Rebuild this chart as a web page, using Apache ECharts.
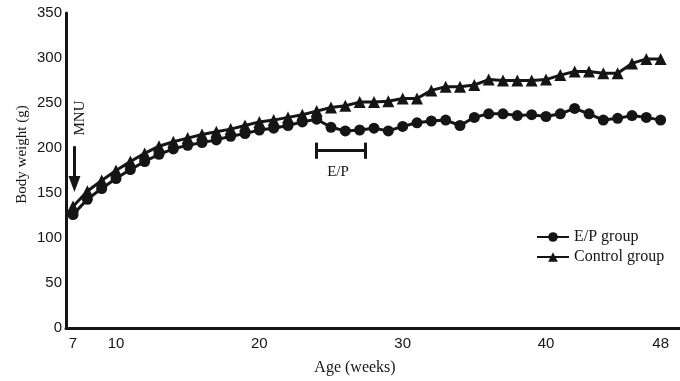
<!DOCTYPE html>
<html>
<head>
<meta charset="utf-8">
<script src="https://cdn.jsdelivr.net/npm/echarts@6/dist/echarts.min.js"></script>
<style>
  html, body { margin: 0; padding: 0; background: #fff; }
  #main { width: 680px; height: 381px; }
</style>
</head>
<body>
<div id="main"></div>
<script>
// weeks of age, one reading per week
var weeks = [7, 8, 9, 10, 11, 12, 13, 14, 15, 16, 17, 18, 19, 20, 21, 22, 23, 24,
    25, 26, 27, 28, 29, 30, 31, 32, 33, 34, 35, 36, 37, 38, 39, 40, 41, 42, 43, 44, 45, 46, 47, 48];
var epGroup = [126, 143, 155, 166, 176, 185, 193, 199, 203, 206, 209, 213, 216, 220, 222, 225, 229, 232,
    223, 219, 220, 222, 219, 224, 228, 230, 231, 225, 234, 238, 238, 236, 237, 235, 238, 244, 238, 231, 233, 236, 234, 231];
var controlGroup = [135, 152, 164, 175, 185, 194, 202, 207, 211, 215, 218, 221, 225, 229, 231, 234, 237, 241,
    245, 247, 251, 251, 252, 255, 255, 264, 268, 268, 270, 276, 275, 275, 275, 276, 281, 285, 285, 283, 283, 294, 299, 299];
var xTicks = [7, 10, 20, 30, 40, 48];
var seriesNames = ['E/P group', 'Control group'];

var serif = "'Liberation Serif', 'Times New Roman', serif";
var narrow = "'Liberation Sans Narrow', 'Liberation Sans', Arial, sans-serif";
var ink = '#151515';

function pairs(vals) {
    return weeks.map(function (w, i) { return [w, vals[i]]; });
}

var chart = echarts.init(document.getElementById('main'));
chart.setOption({
    animation: false,
    grid: { left: 66, right: 0, top: 13, bottom: 52, containLabel: false },
    xAxis: {
        type: 'value',
        min: 6.51,
        max: 49.35,
        name: 'Age (weeks)',
        nameLocation: 'middle',
        nameGap: 32,
        nameTextStyle: { fontFamily: serif, fontSize: 16, color: ink, padding: [0, 36, 0, 0] },
        axisLine: { show: true, lineStyle: { color: ink, width: 3 } },
        axisTick: { show: false },
        splitLine: { show: false },
        axisLabel: {
            customValues: xTicks,
            fontFamily: narrow,
            fontSize: 15,
            color: ink,
            margin: 8
        }
    },
    yAxis: {
        type: 'value',
        min: 0,
        max: 350,
        interval: 50,
        name: 'Body weight (g)',
        nameLocation: 'middle',
        nameRotate: 90,
        nameGap: 36,
        nameMoveOverlap: false,
        nameTextStyle: { fontFamily: serif, fontSize: 15, color: ink, padding: [0, 0, 0, 32] },
        axisLine: { show: true, lineStyle: { color: ink, width: 3 } },
        axisTick: { show: false },
        splitLine: { show: false },
        axisLabel: { fontFamily: narrow, fontSize: 15, color: ink, margin: 4 }
    },
    legend: {
        orient: 'vertical',
        left: 531,
        top: 224,
        itemGap: 4,
        itemWidth: 32,
        itemHeight: 12,
        data: seriesNames,
        textStyle: { fontFamily: serif, fontSize: 16, color: ink }
    },
    series: [
        {
            name: seriesNames[0],
            type: 'line',
            data: pairs(epGroup),
            symbol: 'circle',
            symbolSize: 11,
            lineStyle: { color: ink, width: 3 },
            itemStyle: { color: ink },
            markLine: {
                silent: true,
                symbol: 'none',
                label: { show: false },
                lineStyle: { color: ink, width: 3, type: 'solid' },
                data: [
                    // E/P treatment bar
                    [{ coord: [24, 197] }, { coord: [27.4, 197] }],
                    [{ coord: [24, 206] }, { coord: [24, 188] }],
                    [{ coord: [27.4, 206] }, { coord: [27.4, 188] }],
                    // MNU arrow
                    [{ coord: [7.1, 202], symbol: 'none' }, { coord: [7.1, 160], symbol: 'triangle', symbolSize: [12, 16], symbolRotate: 180 }]
                ]
            }
        },
        {
            name: seriesNames[1],
            type: 'line',
            data: pairs(controlGroup),
            symbol: 'triangle',
            symbolSize: 12,
            lineStyle: { color: ink, width: 3 },
            itemStyle: { color: ink }
        }
    ],
    graphic: [
        {
            type: 'text',
            x: 80, y: 118,
            rotation: Math.PI / 2,
            style: { text: 'MNU', fontFamily: serif, fontSize: 15, fill: ink, textAlign: 'center', textVerticalAlign: 'middle' }
        },
        {
            type: 'text',
            x: 338, y: 172,
            style: { text: 'E/P', fontFamily: serif, fontSize: 15, fill: ink, textAlign: 'center', textVerticalAlign: 'middle' }
        }
    ]
});
</script>
</body>
</html>
